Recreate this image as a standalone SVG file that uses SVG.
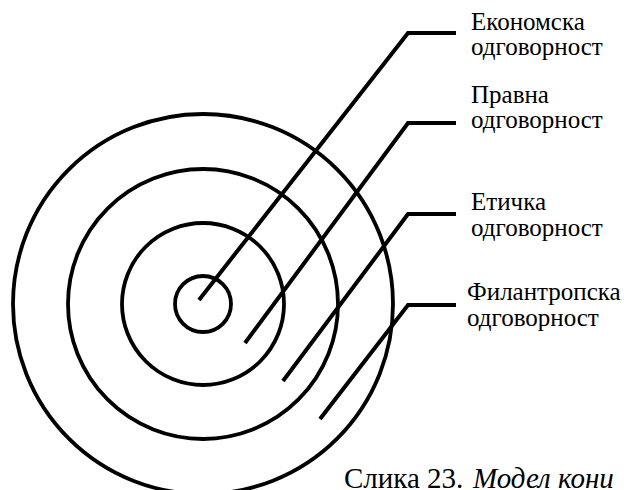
<svg xmlns="http://www.w3.org/2000/svg" width="628" height="490" viewBox="0 0 628 490">
<style>
.c{fill:none;stroke:#000;stroke-width:3.8}
.l{fill:none;stroke:#000;stroke-width:4;stroke-linejoin:miter}
.t{font-family:"Liberation Serif","Times New Roman","DejaVu Serif",serif;font-size:25px;fill:#000}
.cap{font-family:"Liberation Serif","Times New Roman","DejaVu Serif",serif;font-size:29px;fill:#000}
</style>
<rect width="628" height="490" fill="#fff"/>
<g id="rings">
<circle id="ring4" class="c" cx="203" cy="304" r="190"/>
<circle id="ring3" class="c" cx="203" cy="304" r="135"/>
<circle id="ring2" class="c" cx="203" cy="304" r="81"/>
<circle id="ring1" class="c" cx="203" cy="304" r="28"/>
</g>
<g id="connectors">
<polyline class="l" points="199,300 408,33 456,33"/>
<polyline class="l" points="245,343 408,123 456,123"/>
<polyline class="l" points="283,381 408,214 456,214"/>
<polyline class="l" points="320,419 408,305 456,305"/>
</g>
<g id="label1"><text class="t" x="471" y="30">Економска</text><text class="t" x="471" y="55">одговорност</text></g>
<g id="label2"><text class="t" x="471" y="103">Правна</text><text class="t" x="471" y="128">одговорност</text></g>
<g id="label3"><text class="t" x="471" y="210">Етичка</text><text class="t" x="471" y="236">одговорност</text></g>
<g id="label4"><text class="t" x="467" y="300">Филантропска</text><text class="t" x="467" y="326">одговорност</text></g>
<g id="caption"><text class="cap" x="344" y="488">Слика 23. <tspan x="473" font-style="italic">Модел кони</tspan></text></g>
</svg>
